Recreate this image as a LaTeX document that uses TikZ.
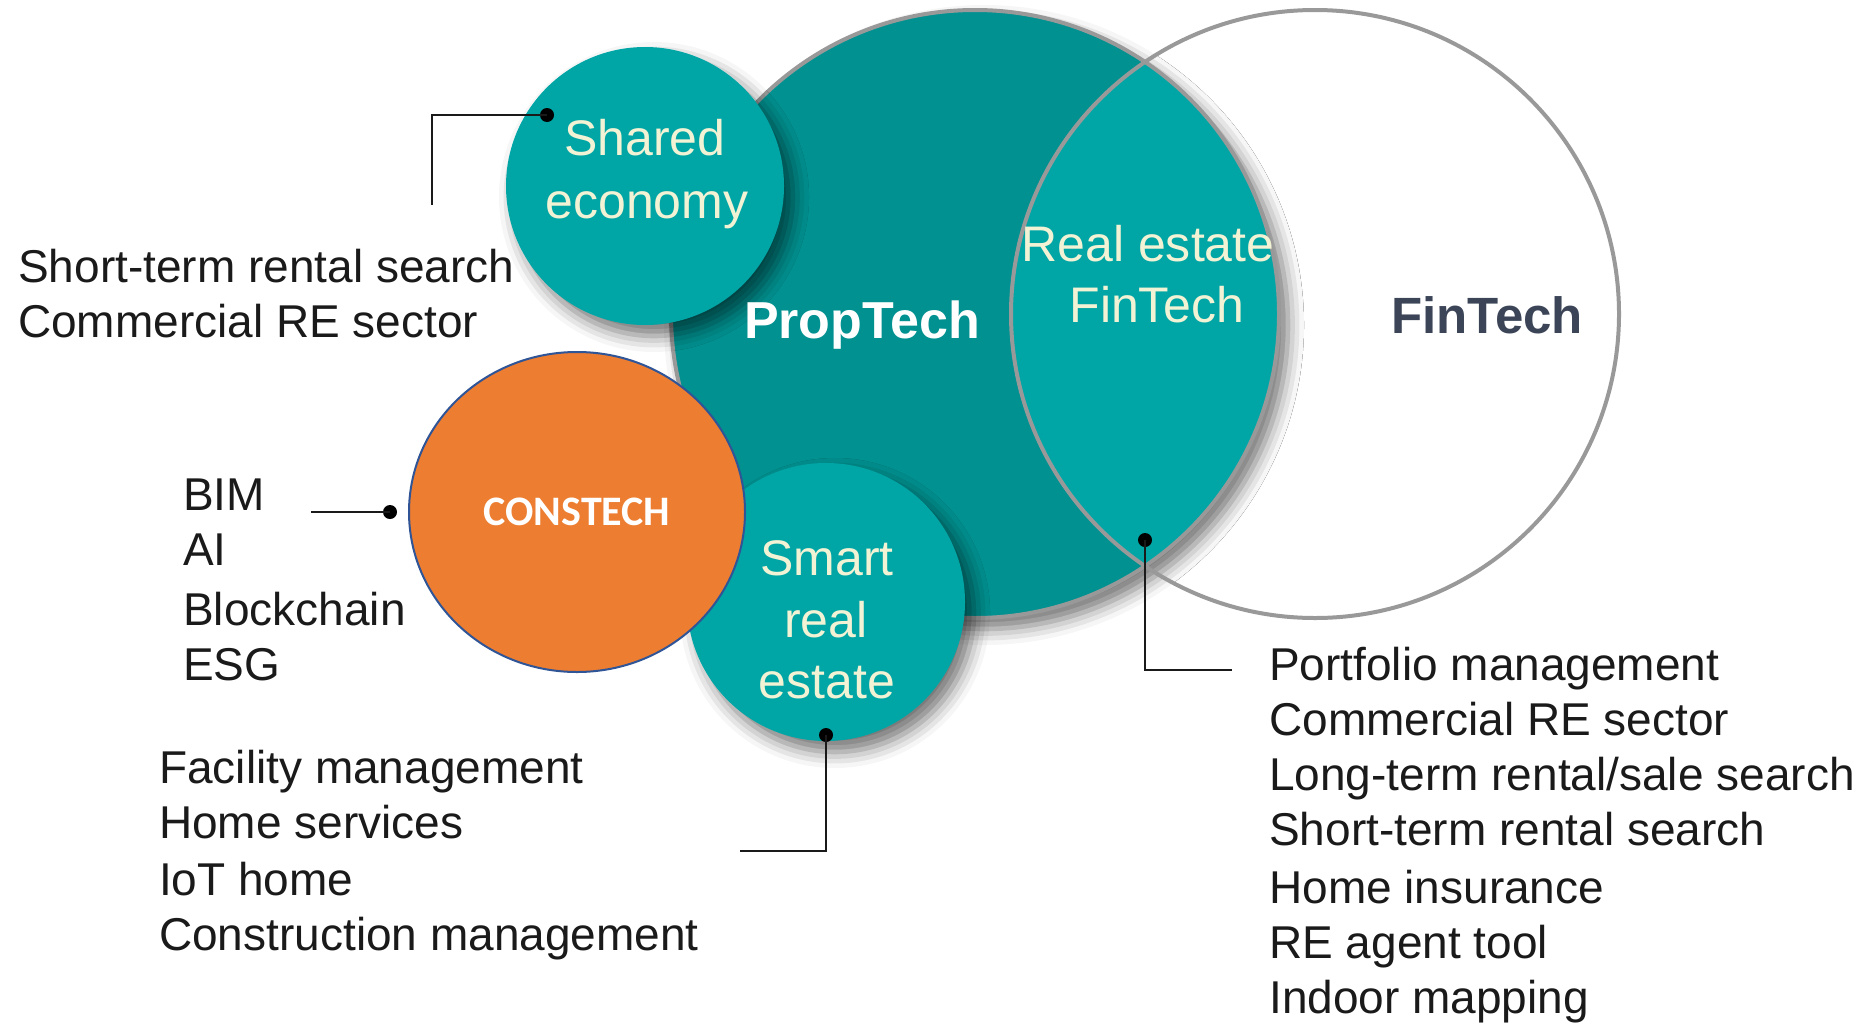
\documentclass[tikz,border=0pt]{standalone}
\usepackage{fontspec}
\setmainfont{Liberation Sans}
\newfontfamily\calibrifont{Carlito}
\usetikzlibrary{shapes.geometric,shadows.blur}
\definecolor{propteal}{RGB}{0,145,144}
\definecolor{lightteal}{RGB}{0,166,166}
\definecolor{cream}{RGB}{242,242,212}
\definecolor{slate}{RGB}{59,69,87}
\definecolor{rimgray}{RGB}{153,153,153}
\definecolor{consorange}{RGB}{237,125,49}
\definecolor{consblue}{RGB}{47,85,151}
\definecolor{inkblack}{RGB}{26,26,26}

\begin{document}
\begin{tikzpicture}[x=1pt,y=-1pt,
  softshadow/.style={blur shadow={shadow xshift=9pt,shadow yshift=-11pt,shadow blur radius=16pt,shadow opacity=55}},
  bubble/.style={circle,fill=lightteal,inner sep=0pt,minimum size=278pt,softshadow},
  bigset/.style={circle,inner sep=0pt,minimum size=608pt},
  incircle/.style={text=cream,font=\fontsize{50}{62}\selectfont,inner sep=0pt,anchor=base},
  setname/.style={font=\bfseries\fontsize{52}{60}\selectfont,inner sep=0pt,anchor=base},
  item/.style={text=inkblack,font=\fontsize{46}{56}\selectfont,anchor=base west,inner sep=0pt},
  lead/.style={draw=inkblack,line width=2.8pt},
  leaddot/.style={circle,fill=black,inner sep=0pt,minimum size=14pt}]
\useasboundingbox (0,0) rectangle (1865,1028);

\node[bigset,fill=white] (fin) at (1315,314) {};
\node[bigset,fill=propteal,softshadow] (prop) at (975,314) {};
\begin{scope}
\clip (prop) circle[radius=304pt];
\fill[lightteal] (fin) circle[radius=304pt];
\end{scope}
\draw[rimgray,line width=4pt] (prop) circle[radius=304pt];
\draw[rimgray,line width=4pt] (fin) circle[radius=304pt];

\node[bubble] (shared) at (645,186) {};
\node[bubble] (smart) at (826,602) {};
\node[ellipse,fill=consorange,draw=consblue,line width=2pt,inner sep=0pt,
  minimum width=336pt,minimum height=320pt] (cons) at (577,512) {};

\node[incircle] (sharedA) at (645,155) {Shared};
\node[incircle] (sharedB) at (647,218) {economy};
\node[incircle] (smartA) at (827,575) {Smart};
\node[incircle] (smartB) at (826,637) {real};
\node[incircle] (smartC) at (827,698) {estate};
\node[incircle] (lensA) at (1148,261) {Real estate};
\node[incircle] (lensB) at (1157,322) {FinTech};
\node[setname,text=white] (propname) at (862,338) {PropTech};
\node[setname,text=slate,font=\bfseries\fontsize{51}{60}\selectfont] (finname) at (1487,333) {FinTech};
\node[text=white,font=\calibrifont\bfseries\fontsize{42}{50}\selectfont,inner sep=0pt,anchor=base] (consname) at (577,525) {CONSTECH};

\foreach \txt/\yy [count=\i] in {Short-term rental search/282,Commercial RE sector/337}
  \node[item] (sharedlist-\i) at (18,\yy) {\txt};
\foreach \txt/\yy [count=\i] in {BIM/510,AI/565,Blockchain/625,ESG/680}
  \node[item] (conslist-\i) at (183,\yy) {\txt};
\foreach \txt/\yy [count=\i] in {Facility management/783,Home services/838,IoT home/895,Construction management/950}
  \node[item] (smartlist-\i) at (159,\yy) {\txt};
\foreach \txt/\yy [count=\i] in {Portfolio management/680,Commercial RE sector/735,{Long-term rental/sale search}/790,Short-term rental search/845,Home insurance/903,RE agent tool/958,Indoor mapping/1013}
  \node[item] (finlist-\i) at (1269,\yy) {\txt};

\node[leaddot] (sharedDot) at (547,115) {};
\coordinate (sharedEnd) at (432,205);
\draw[lead] (sharedDot.center) -| (sharedEnd);
\node[leaddot] (consDot) at (390,512) {};
\coordinate (consEnd) at (311,512);
\draw[lead] (consDot.center) -- (consEnd);
\node[leaddot] (smartDot) at (826,735) {};
\coordinate (smartEnd) at (740,851);
\draw[lead] (smartDot.center) |- (smartEnd);
\node[leaddot] (lensDot) at (1145,540) {};
\coordinate (lensEnd) at (1232,670);
\draw[lead] (lensDot.center) |- (lensEnd);
\end{tikzpicture}
\end{document}
